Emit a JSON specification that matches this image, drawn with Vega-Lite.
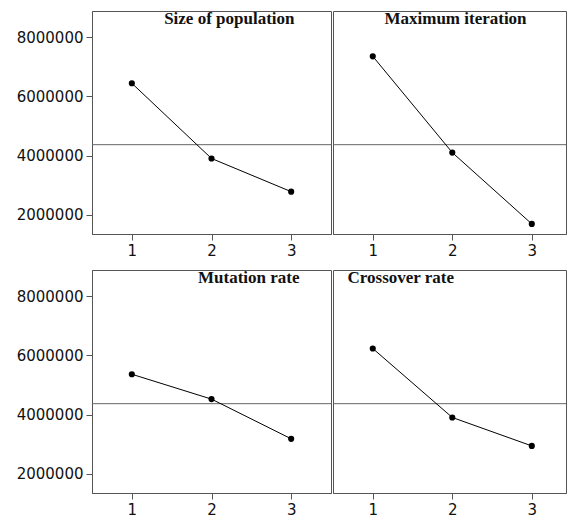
{
  "$schema": "https://vega.github.io/schema/vega-lite/v6.json",
  "padding": {"left": 15, "top": 9, "right": 0, "bottom": 0},
  "background": "white",
  "datasets": {
    "effects": [
      {"factor": "Size of population", "level": 1, "value": 6440000},
      {"factor": "Size of population", "level": 2, "value": 3900000},
      {"factor": "Size of population", "level": 3, "value": 2780000},
      {"factor": "Maximum iteration", "level": 1, "value": 7350000},
      {"factor": "Maximum iteration", "level": 2, "value": 4100000},
      {"factor": "Maximum iteration", "level": 3, "value": 1690000},
      {"factor": "Mutation rate", "level": 1, "value": 5360000},
      {"factor": "Mutation rate", "level": 2, "value": 4520000},
      {"factor": "Mutation rate", "level": 3, "value": 3180000},
      {"factor": "Crossover rate", "level": 1, "value": 6230000},
      {"factor": "Crossover rate", "level": 2, "value": 3900000},
      {"factor": "Crossover rate", "level": 3, "value": 2940000}
    ]
  },
  "config": {
    "view": {"stroke": "#555", "strokeWidth": 1},
    "axis": {
      "labelFont": "DejaVu Sans",
      "labelFontSize": 15,
      "labelColor": "#111",
      "domainColor": "#555",
      "tickColor": "#555",
      "tickSize": 6,
      "labelPadding": 3,
      "grid": false,
      "title": null
    },
    "title": {"font": "Liberation Serif", "fontSize": 17, "fontWeight": "bold", "color": "#111", "baseline": "alphabetic", "offset": -17},
    "point": {"filled": true, "color": "black", "size": 38, "opacity": 1},
    "line": {"color": "black", "strokeWidth": 1}
  },
  "spacing": 9,
  "vconcat": [
    {
      "spacing": 0,
      "hconcat": [
        {
          "width": 239, "height": 223,
          "title": {"text": "Size of population", "anchor": "end", "dx": -37, "font": "Liberation Serif", "fontSize": 17, "fontWeight": "bold"},
          "data": {"name": "effects"},
          "layer": [
            {"mark": {"type": "rule", "color": "#666", "strokeWidth": 1},
             "encoding": {"y": {"aggregate": "mean", "field": "value", "type": "quantitative", "axis": {"values": [2000000, 4000000, 6000000, 8000000], "format": "d"}, "scale": {"domain": [1350000, 8880000], "nice": false, "zero": false}}}},
            {"transform": [{"filter": "datum.factor === 'Size of population'"}],
             "mark": "line",
             "encoding": {
               "x": {"field": "level", "type": "quantitative", "scale": {"domain": [0.5, 3.5], "nice": false, "zero": false}, "axis": {"values": [1, 2, 3], "format": "d"}},
               "y": {"field": "value", "type": "quantitative"}}},
            {"transform": [{"filter": "datum.factor === 'Size of population'"}],
             "mark": "point",
             "encoding": {
               "x": {"field": "level", "type": "quantitative"},
               "y": {"field": "value", "type": "quantitative"}}}
          ]
        },
        {
          "width": 233, "height": 223,
          "title": {"text": "Maximum iteration", "anchor": "middle", "dx": 6, "font": "Liberation Serif", "fontSize": 17, "fontWeight": "bold"},
          "data": {"name": "effects"},
          "layer": [
            {"mark": {"type": "rule", "color": "#666", "strokeWidth": 1},
             "encoding": {"y": {"aggregate": "mean", "field": "value", "type": "quantitative", "axis": null, "scale": {"domain": [1350000, 8880000], "nice": false, "zero": false}}}},
            {"transform": [{"filter": "datum.factor === 'Maximum iteration'"}],
             "mark": "line",
             "encoding": {
               "x": {"field": "level", "type": "quantitative", "scale": {"domain": [0.5, 3.43], "nice": false, "zero": false}, "axis": {"values": [1, 2, 3], "format": "d"}},
               "y": {"field": "value", "type": "quantitative", "axis": null}}},
            {"transform": [{"filter": "datum.factor === 'Maximum iteration'"}],
             "mark": "point",
             "encoding": {
               "x": {"field": "level", "type": "quantitative"},
               "y": {"field": "value", "type": "quantitative", "axis": null}}}
          ]
        }
      ]
    },
    {
      "spacing": 0,
      "hconcat": [
        {
          "width": 239, "height": 223,
          "title": {"text": "Mutation rate", "anchor": "end", "dx": -32, "font": "Liberation Serif", "fontSize": 17, "fontWeight": "bold"},
          "data": {"name": "effects"},
          "layer": [
            {"mark": {"type": "rule", "color": "#666", "strokeWidth": 1},
             "encoding": {"y": {"aggregate": "mean", "field": "value", "type": "quantitative", "axis": {"values": [2000000, 4000000, 6000000, 8000000], "format": "d"}, "scale": {"domain": [1350000, 8880000], "nice": false, "zero": false}}}},
            {"transform": [{"filter": "datum.factor === 'Mutation rate'"}],
             "mark": "line",
             "encoding": {
               "x": {"field": "level", "type": "quantitative", "scale": {"domain": [0.5, 3.5], "nice": false, "zero": false}, "axis": {"values": [1, 2, 3], "format": "d"}},
               "y": {"field": "value", "type": "quantitative"}}},
            {"transform": [{"filter": "datum.factor === 'Mutation rate'"}],
             "mark": "point",
             "encoding": {
               "x": {"field": "level", "type": "quantitative"},
               "y": {"field": "value", "type": "quantitative"}}}
          ]
        },
        {
          "width": 233, "height": 223,
          "title": {"text": "Crossover rate", "anchor": "start", "dx": 15, "font": "Liberation Serif", "fontSize": 17, "fontWeight": "bold"},
          "data": {"name": "effects"},
          "layer": [
            {"mark": {"type": "rule", "color": "#666", "strokeWidth": 1},
             "encoding": {"y": {"aggregate": "mean", "field": "value", "type": "quantitative", "axis": null, "scale": {"domain": [1350000, 8880000], "nice": false, "zero": false}}}},
            {"transform": [{"filter": "datum.factor === 'Crossover rate'"}],
             "mark": "line",
             "encoding": {
               "x": {"field": "level", "type": "quantitative", "scale": {"domain": [0.5, 3.43], "nice": false, "zero": false}, "axis": {"values": [1, 2, 3], "format": "d"}},
               "y": {"field": "value", "type": "quantitative", "axis": null}}},
            {"transform": [{"filter": "datum.factor === 'Crossover rate'"}],
             "mark": "point",
             "encoding": {
               "x": {"field": "level", "type": "quantitative"},
               "y": {"field": "value", "type": "quantitative", "axis": null}}}
          ]
        }
      ]
    }
  ]
}
